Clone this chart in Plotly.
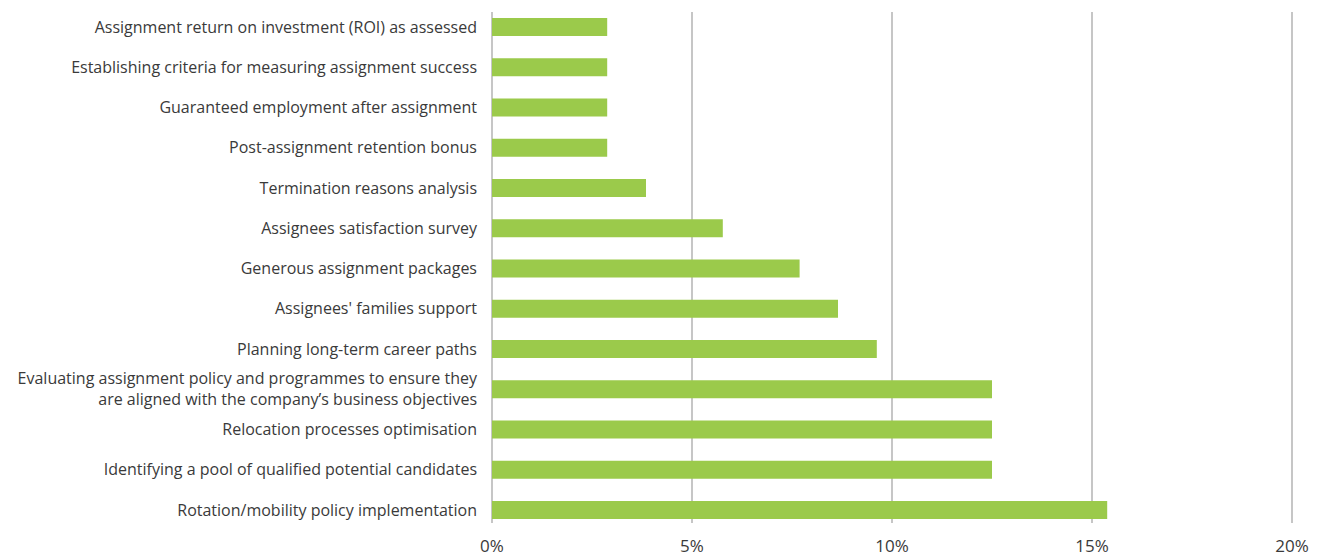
import plotly.graph_objects as go

# Categories listed bottom-to-top as they appear on the axis
categories = [
    "Rotation/mobility policy implementation",
    "Identifying a pool of qualified potential candidates",
    "Relocation processes optimisation",
    "Evaluating assignment policy and programmes to ensure they<br>are aligned with the company’s business objectives",
    "Planning long-term career paths",
    "Assignees' families support",
    "Generous assignment packages",
    "Assignees satisfaction survey",
    "Termination reasons analysis",
    "Post-assignment retention bonus",
    "Guaranteed employment after assignment",
    "Establishing criteria for measuring assignment success",
    "Assignment return on investment (ROI) as assessed",
]
values = [15.38, 12.5, 12.5, 12.5, 9.62, 8.65, 7.69, 5.77, 3.85, 2.88, 2.88, 2.88, 2.88]
x_ticks = [0, 5, 10, 15, 20]
x_tick_labels = ["0%", "5%", "10%", "15%", "20%"]

positions = list(range(len(categories)))

fig = go.Figure(
    go.Bar(
        x=values,
        y=positions,
        orientation="h",
        width=0.45,
        marker=dict(color="#9BCA4B", line=dict(width=0)),
        hoverinfo="skip",
    )
)

font_family = "Open Sans"
text_color = "#3a3a3a"

fig.update_layout(
    width=1338,
    height=559,
    margin=dict(l=492, r=43, t=12, b=36),
    paper_bgcolor="white",
    plot_bgcolor="white",
    showlegend=False,
    font=dict(family=font_family, size=16, color=text_color),
)

# Range runs a hair past 20% so the last gridline stays inside the plot
fig.update_xaxes(
    range=[0, 20.075],
    tickvals=x_ticks,
    ticktext=x_tick_labels,
    showgrid=True,
    gridcolor="#C6C6C6",
    gridwidth=2,
    zeroline=True,
    zerolinecolor="#C6C6C6",
    zerolinewidth=2,
    showline=False,
    ticks="",
    tickfont=dict(size=17, color=text_color),
    ticklabelstandoff=11,
    automargin=False,
)

fig.update_yaxes(
    range=[-0.323, 12.373],
    tickvals=positions,
    ticktext=categories,
    showgrid=False,
    zeroline=False,
    showline=False,
    ticks="",
    tickfont=dict(size=16, color=text_color),
    ticklabelstandoff=14,
    automargin=False,
)

fig.write_html("out.html")
